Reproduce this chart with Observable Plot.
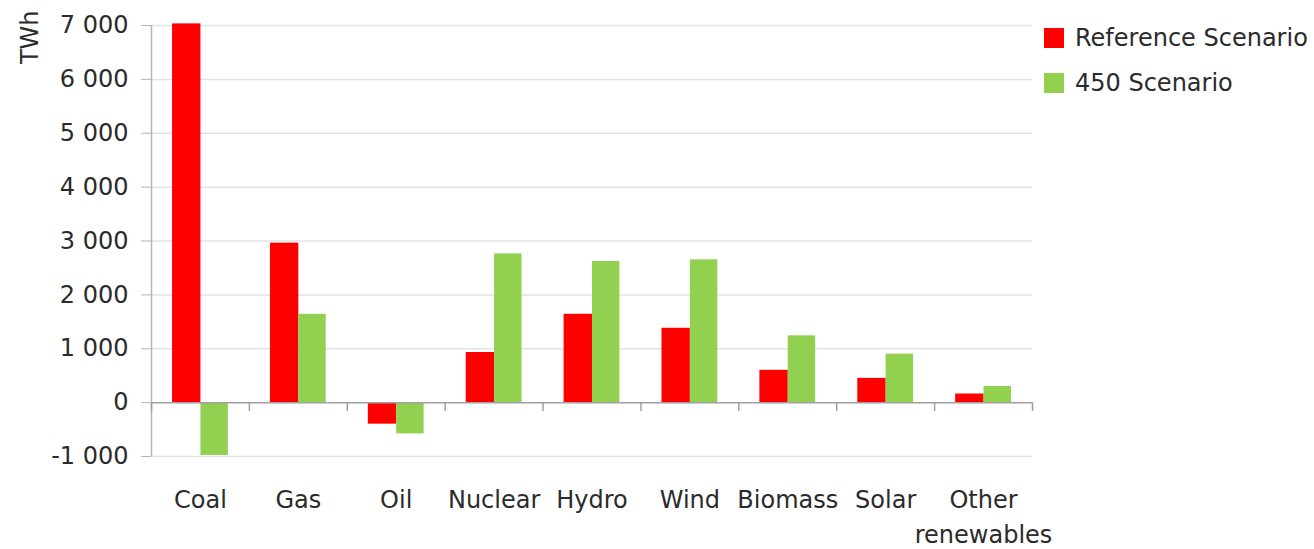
<!DOCTYPE html>
<html>
<head>
<meta charset="utf-8">
<script src="https://cdn.jsdelivr.net/npm/d3@7"></script>
<script src="https://cdn.jsdelivr.net/npm/@observablehq/plot@0.6"></script>
<style>
  html, body { margin: 0; padding: 0; background: #fff; }
  #wrap { position: relative; width: 1314px; height: 549px; font-family: "DejaVu Sans", sans-serif; color: #2b2b2b; }
  .legend { position: absolute; left: 1044px; font-size: 24px; display: flex; align-items: center; white-space: nowrap; }
  .sw { width: 20px; height: 20px; margin-right: 11px; }
</style>
</head>
<body>
<div id="wrap"></div>
<script>
const categories = ["Coal", "Gas", "Oil", "Nuclear", "Hydro", "Wind", "Biomass", "Solar", "Other renewables"];
const categoryLabels = ["Coal", "Gas", "Oil", "Nuclear", "Hydro", "Wind", "Biomass", "Solar", "Other\nrenewables"];
const seriesNames = ["Reference Scenario", "450 Scenario"];
const referenceScenario = [7030, 2960, -400, 930, 1640, 1380, 600, 450, 160];
const scenario450 = [-980, 1640, -580, 2760, 2620, 2650, 1240, 900, 300];
const yTicks = [-1000, 0, 1000, 2000, 3000, 4000, 5000, 6000, 7000];
const colors = ["#ff0000", "#92d050"];

const W = 1314, H = 549;
const mL = 151, mR = 282, mT = 25, mB = 93;
const bw = (W - mL - mR) / categories.length;
const barW = bw * 0.29;
const outer = bw * 0.215;

const ref = categories.map((c, i) => ({cat: c, v: referenceScenario[i]}));
const s450 = categories.map((c, i) => ({cat: c, v: scenario450[i]}));
const fmt = d => d3.format(",")(d).replace(/,/g, " ").replace("−", "-");
const fs = 24;

const chart = Plot.plot({
  width: W, height: H,
  marginLeft: mL, marginRight: mR, marginTop: mT, marginBottom: mB,
  style: {fontFamily: "DejaVu Sans, sans-serif", fontSize: fs + "px", color: "#2b2b2b", background: "#fff"},
  x: {domain: categories, padding: 0, round: false, axis: null},
  y: {domain: [-1000, 7000], axis: null},
  marks: [
    Plot.ruleY(yTicks.filter(d => d !== 0), {stroke: "#e3e3e3", strokeWidth: 1.5}),
    Plot.ruleX([categories[0]], {x: d => d, dx: -bw / 2, stroke: "#b5b5b5", strokeWidth: 1.5}),
    Plot.axisY({ticks: yTicks, tickFormat: fmt, tickSize: 10, tickPadding: 13, stroke: "#b5b5b5", fontSize: fs, fill: "#2b2b2b", label: null}),
    Plot.barY(ref, {x: "cat", y: "v", fill: colors[0], insetLeft: outer, insetRight: bw - outer - barW}),
    Plot.barY(s450, {x: "cat", y: "v", fill: colors[1], insetLeft: outer + barW, insetRight: outer}),
    Plot.ruleY([0], {stroke: "#a0a0a0", strokeWidth: 1.5}),
    Plot.ruleX(categories, {x: d => d, dx: -bw / 2, y1: 0, y2: -1000, insetBottom: 45, stroke: "#a0a0a0", strokeWidth: 1.5}),
    Plot.ruleX([categories[categories.length - 1]], {x: d => d, dx: bw / 2, y1: 0, y2: -1000, insetBottom: 45, stroke: "#a0a0a0", strokeWidth: 1.5}),
    Plot.text(categories, {x: d => d, text: (d, i) => categoryLabels[i], frameAnchor: "bottom", dy: 27, lineAnchor: "top", lineHeight: 1.45, fontSize: fs, fill: "#2b2b2b"}),
    Plot.text(["TWh"], {frameAnchor: "top-left", dx: -121, dy: -15, rotate: -90, textAnchor: "end", lineAnchor: "middle", fontSize: fs, fill: "#2b2b2b"})
  ]
});

const wrap = document.getElementById("wrap");
wrap.appendChild(chart);
seriesNames.forEach((name, i) => {
  const div = document.createElement("div");
  div.className = "legend";
  div.style.top = (24 + i * 45) + "px";
  div.innerHTML = `<span class="sw" style="background:${colors[i]}"></span><span>${name}</span>`;
  wrap.appendChild(div);
});
</script>
</body>
</html>
